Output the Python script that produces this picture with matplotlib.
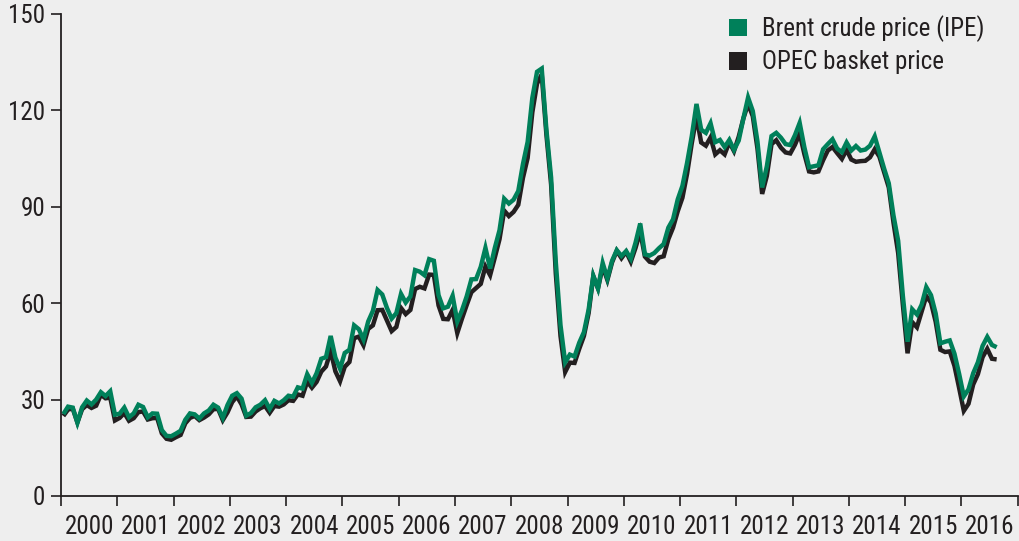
import numpy as np
import matplotlib.pyplot as plt
from matplotlib.patches import Patch

plt.rcParams['font.family'] = ['Roboto Condensed', 'Archivo Narrow', 'DejaVu Sans']

# Monthly averages, Jan 2000 - Aug 2016 (US$/barrel)
years = list(range(2000, 2017))

brent = [
    25.5, 27.8, 27.5, 22.8, 27.6, 29.7, 28.5, 30.0, 32.3, 31.1, 32.6, 25.3,   # 2000
    25.6, 27.5, 24.5, 25.7, 28.4, 27.7, 24.5, 25.7, 25.6, 20.5, 18.7, 18.6,   # 2001
    19.4, 20.3, 23.7, 25.7, 25.4, 24.1, 25.7, 26.6, 28.4, 27.5, 24.3, 28.3,   # 2002
    31.2, 32.0, 30.3, 25.0, 25.8, 27.6, 28.4, 29.8, 27.1, 29.6, 28.8, 29.8,   # 2003
    31.2, 30.9, 33.8, 33.4, 37.9, 35.2, 38.2, 42.7, 43.2, 49.8, 43.1, 39.6,   # 2004
    44.5, 45.5, 53.1, 51.9, 48.7, 54.3, 57.6, 64.1, 62.7, 58.5, 55.2, 56.9,   # 2005
    62.9, 60.2, 62.1, 70.3, 69.8, 68.7, 73.7, 73.2, 62.5, 58.4, 58.9, 62.3,   # 2006
    54.3, 57.8, 62.1, 67.4, 67.5, 71.3, 77.2, 70.8, 77.2, 82.7, 92.5, 91.0,   # 2007
    92.2, 94.9, 103.3, 110.2, 123.9, 132.0, 133.0, 113.9, 99.1, 72.8, 53.2, 41.6,  # 2008
    44.0, 43.4, 47.7, 51.0, 58.0, 68.5, 64.6, 72.5, 67.7, 73.2, 76.5, 74.7,   # 2009
    76.2, 73.8, 78.8, 84.8, 75.2, 74.8, 75.6, 77.1, 78.4, 83.5, 86.1, 92.3,   # 2010
    96.5, 103.7, 112.0, 122.0, 114.0, 113.0, 116.0, 110.1, 110.8, 108.6, 110.8, 107.7,  # 2011
    110.6, 117.5, 124.0, 119.8, 110.3, 96.0, 102.6, 112.0, 113.0, 111.5, 109.5, 109.2,  # 2012
    112.3, 116.1, 108.5, 102.3, 102.6, 102.9, 107.9, 109.5, 111.0, 108.1, 107.0, 110.0,  # 2013
    107.5, 108.9, 107.5, 107.8, 109.0, 111.9, 106.9, 101.9, 97.3, 87.3, 79.4, 62.3,  # 2014
    48.0, 58.1, 56.5, 59.5, 65.0, 62.5, 56.8, 47.5, 48.0, 48.4, 44.3, 38.0,   # 2015
    31.0, 33.2, 38.2, 41.6, 46.7, 49.5, 47.0, 46.3,                           # 2016
]

opec = [
    24.9, 26.9, 27.2, 22.9, 27.0, 28.3, 27.4, 28.1, 31.5, 30.4, 30.6, 23.5,   # 2000
    24.3, 25.8, 23.4, 24.2, 26.1, 26.3, 23.8, 24.2, 24.3, 19.5, 17.8, 17.5,   # 2001
    18.3, 19.0, 22.6, 24.3, 24.9, 23.6, 24.4, 25.4, 27.0, 27.1, 23.6, 26.0,   # 2002
    29.2, 31.0, 28.5, 24.6, 24.7, 26.3, 27.3, 28.0, 25.9, 28.0, 27.8, 28.5,   # 2003
    29.8, 29.6, 31.6, 31.2, 35.6, 33.7, 35.5, 38.7, 40.3, 45.1, 38.8, 35.7,   # 2004
    40.2, 41.7, 49.1, 49.6, 46.9, 52.0, 53.1, 57.8, 57.9, 54.6, 51.3, 52.6,   # 2005
    58.5, 56.6, 57.9, 64.4, 65.1, 64.6, 68.9, 68.8, 59.3, 55.1, 55.0, 57.9,   # 2006
    50.7, 55.2, 59.4, 63.4, 64.7, 66.0, 71.4, 68.7, 74.2, 79.9, 88.8, 87.1,   # 2007
    88.4, 90.6, 99.0, 105.2, 119.4, 128.3, 131.2, 112.4, 96.9, 69.2, 49.8, 38.6,  # 2008
    41.5, 41.4, 45.8, 49.8, 56.9, 68.4, 64.6, 71.4, 67.2, 72.7, 76.3, 74.0,   # 2009
    76.0, 72.9, 77.2, 82.3, 74.5, 72.9, 72.5, 74.2, 74.6, 79.9, 83.5, 88.6,   # 2010
    92.8, 100.3, 109.8, 118.1, 110.0, 109.0, 111.6, 106.3, 107.6, 106.3, 110.1, 107.3,  # 2011
    111.8, 117.5, 122.0, 118.2, 108.1, 94.0, 99.6, 109.5, 110.7, 108.4, 106.9, 106.6,  # 2012
    109.3, 112.8, 106.4, 101.0, 100.7, 101.0, 104.5, 107.5, 108.6, 106.7, 104.9, 107.7,  # 2013
    104.7, 104.0, 104.2, 104.3, 105.4, 107.9, 105.6, 100.8, 96.0, 85.1, 75.6, 59.5,  # 2014
    44.4, 54.1, 52.5, 57.3, 62.2, 60.2, 54.2, 45.5, 44.8, 45.0, 40.5, 33.6,   # 2015
    26.5, 28.7, 34.7, 37.9, 43.2, 45.8, 42.7, 42.5,                           # 2016
]

yticks = [0, 30, 60, 90, 120, 150]

green = "#00805A"
black = "#231F20"
bg = "#EEEEEE"

t = 2000 + (np.arange(len(brent)) + 0.5) / 12

fig = plt.figure(figsize=(10.2, 5.41), dpi=100, facecolor=bg)
ax = fig.add_axes([0.0598, 0.0832, 0.938, 0.891])
ax.set_facecolor(bg)

ax.plot(t, opec, color=black, lw=3.2, solid_joinstyle='miter', solid_capstyle='butt')
ax.plot(t, brent, color=green, lw=3.2, solid_joinstyle='miter', solid_capstyle='butt')

ax.set_xlim(2000, 2017)
ax.set_ylim(0, 150)
ax.set_yticks(yticks)

# year ticks at boundaries, labels centred in between
ax.set_xticks(range(2000, 2018))
ax.set_xticklabels([])
ax.set_xticks([y + 0.5 for y in years], minor=True)
ax.set_xticklabels([str(y) for y in years], minor=True)
ax.tick_params(axis='x', which='minor', length=0, pad=14, labelsize=18, labelcolor=black)
ax.tick_params(axis='x', which='major', length=7.5, width=1.2, color=black, direction='out')
ax.tick_params(axis='y', length=7.5, width=1.2, color=black, pad=4, labelsize=18, labelcolor=black)

for s in ['top', 'right']:
    ax.spines[s].set_visible(False)
for s in ['left', 'bottom']:
    ax.spines[s].set_color(black)
    ax.spines[s].set_linewidth(1.3)

handles = [Patch(facecolor=green, label='Brent crude price (IPE)'),
           Patch(facecolor=black, label='OPEC basket price')]
leg = ax.legend(handles=handles, loc='upper left', bbox_to_anchor=(0.688, 1.018),
                frameon=False, fontsize=18, handlelength=0.72, handleheight=0.72,
                handletextpad=0.6, labelspacing=0.33, borderaxespad=0)
for txt in leg.get_texts():
    txt.set_color(black)

fig.savefig("out.png", dpi=100, facecolor=bg)
